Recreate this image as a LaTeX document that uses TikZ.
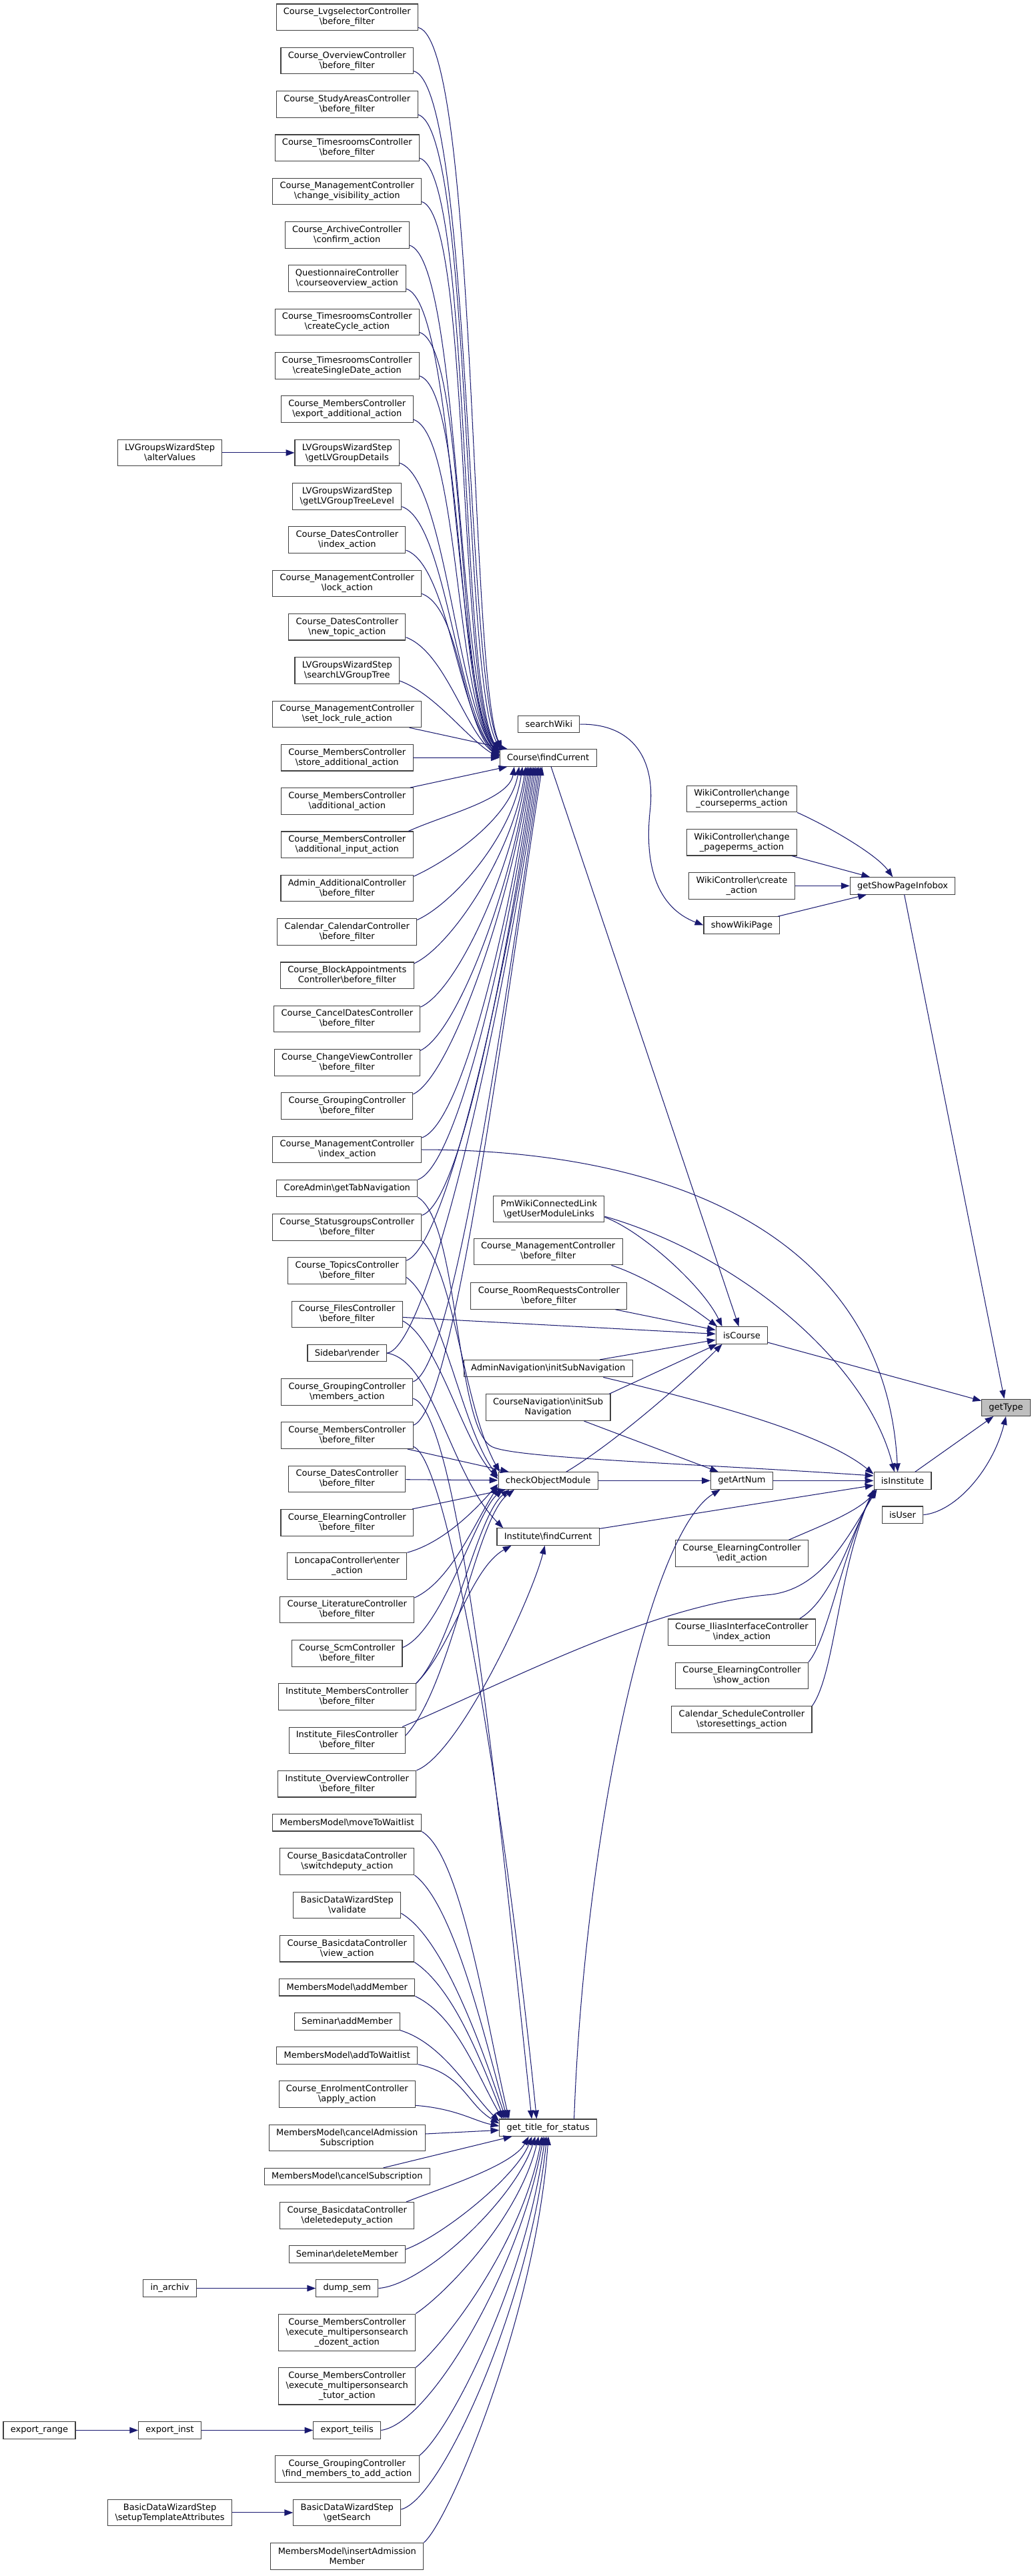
\documentclass[tikz,border=0pt]{standalone}
\usepackage{fontspec}
\setmainfont{DejaVu Sans}
\usetikzlibrary{arrows.meta,calc}
\definecolor{edgecol}{HTML}{191970}
\definecolor{nodeborder}{HTML}{404040}
\definecolor{hlfill}{HTML}{BFBFBF}
\def\dxf{\fontsize{5.28}{6.1}\selectfont}
\def\dxb{\textbackslash}
\tikzset{
  nb/.style={draw=nodeborder, fill=white, line width=0.45pt, align=center, font=\dxf,
             inner xsep=4.4pt, inner ysep=0pt, minimum height=10.3pt},
  nb2/.style={nb, minimum height=16.1pt},
  nb3/.style={nb, minimum height=22.4pt},
  e/.style={draw=edgecol, line width=0.42pt, -{Triangle[length=5.2pt,width=3.8pt]}},
}
\begin{document}
\begin{tikzpicture}[x=1pt,y=-1pt]
\useasboundingbox (0,0) rectangle (630.9,1570.3);
\fill[white] (0,0) rectangle (630.9,1570.3);

% ---------- left column (rank 4)
\node[nb2] (n1) at (211.5,10.5) {Course\_LvgselectorController\\\dxb before\_filter};
\node[nb2] (n2) at (211.5,37.05) {Course\_OverviewController\\\dxb before\_filter};
\node[nb2] (n3) at (211.5,63.6) {Course\_StudyAreasController\\\dxb before\_filter};
\node[nb2] (n4) at (211.5,90.15) {Course\_TimesroomsController\\\dxb before\_filter};
\node[nb2] (n5) at (211.5,116.7) {Course\_ManagementController\\\dxb change\_visibility\_action};
\node[nb2] (n6) at (211.5,143.25) {Course\_ArchiveController\\\dxb confirm\_action};
\node[nb2] (n7) at (211.5,169.8) {QuestionnaireController\\\dxb courseoverview\_action};
\node[nb2] (n8) at (211.5,196.35) {Course\_TimesroomsController\\\dxb createCycle\_action};
\node[nb2] (n9) at (211.5,222.9) {Course\_TimesroomsController\\\dxb createSingleDate\_action};
\node[nb2] (n10) at (211.5,249.45) {Course\_MembersController\\\dxb export\_additional\_action};
\node[nb2] (n11) at (211.5,276.0) {LVGroupsWizardStep\\\dxb getLVGroupDetails};
\node[nb2] (n12) at (211.5,302.55) {LVGroupsWizardStep\\\dxb getLVGroupTreeLevel};
\node[nb2] (n13) at (211.5,329.1) {Course\_DatesController\\\dxb index\_action};
\node[nb2] (n14) at (211.5,355.65) {Course\_ManagementController\\\dxb lock\_action};
\node[nb2] (n15) at (211.5,382.2) {Course\_DatesController\\\dxb new\_topic\_action};
\node[nb2] (n16) at (211.5,408.75) {LVGroupsWizardStep\\\dxb searchLVGroupTree};
\node[nb2] (n17) at (211.5,435.3) {Course\_ManagementController\\\dxb set\_lock\_rule\_action};
\node[nb2] (n18) at (211.5,461.85) {Course\_MembersController\\\dxb store\_additional\_action};
\node[nb2] (n19) at (211.5,488.4) {Course\_MembersController\\\dxb additional\_action};
\node[nb2] (n20) at (211.5,514.95) {Course\_MembersController\\\dxb additional\_input\_action};
\node[nb2] (n21) at (211.5,541.5) {Admin\_AdditionalController\\\dxb before\_filter};
\node[nb2] (n22) at (211.5,568.05) {Calendar\_CalendarController\\\dxb before\_filter};
\node[nb2] (n23) at (211.5,594.6) {Course\_BlockAppointments\\Controller\dxb before\_filter};
\node[nb2] (n24) at (211.5,621.15) {Course\_CancelDatesController\\\dxb before\_filter};
\node[nb2] (n25) at (211.5,647.7) {Course\_ChangeViewController\\\dxb before\_filter};
\node[nb2] (n26) at (211.5,674.25) {Course\_GroupingController\\\dxb before\_filter};
\node[nb2] (n27) at (211.5,700.8) {Course\_ManagementController\\\dxb index\_action};
\node[nb]  (n28) at (211.5,724.45) {CoreAdmin\dxb getTabNavigation};
\node[nb2] (n29) at (211.5,748.1) {Course\_StatusgroupsController\\\dxb before\_filter};
\node[nb2] (n30) at (211.5,774.65) {Course\_TopicsController\\\dxb before\_filter};
\node[nb2] (n31) at (211.5,801.2) {Course\_FilesController\\\dxb before\_filter};
\node[nb]  (n32) at (211.5,824.85) {Sidebar\dxb render};
\node[nb2] (n33) at (211.5,848.5) {Course\_GroupingController\\\dxb members\_action};
\node[nb2] (n34) at (211.5,875.05) {Course\_MembersController\\\dxb before\_filter};
\node[nb2] (n35) at (211.5,901.6) {Course\_DatesController\\\dxb before\_filter};
\node[nb2] (n36) at (211.5,928.15) {Course\_ElearningController\\\dxb before\_filter};
\node[nb2] (n37) at (211.5,954.7) {LoncapaController\dxb enter\\\_action};
\node[nb2] (n38) at (211.5,981.25) {Course\_LiteratureController\\\dxb before\_filter};
\node[nb2] (n39) at (211.5,1007.8) {Course\_ScmController\\\dxb before\_filter};
\node[nb2] (n40) at (211.5,1034.35) {Institute\_MembersController\\\dxb before\_filter};
\node[nb2] (n41) at (211.5,1060.9) {Institute\_FilesController\\\dxb before\_filter};
\node[nb2] (n42) at (211.5,1087.45) {Institute\_OverviewController\\\dxb before\_filter};
\node[nb]  (n43) at (211.5,1111.1) {MembersModel\dxb moveToWaitlist};
\node[nb2] (n44) at (211.5,1134.75) {Course\_BasicdataController\\\dxb switchdeputy\_action};
\node[nb2] (n45) at (211.5,1161.3) {BasicDataWizardStep\\\dxb validate};
\node[nb2] (n46) at (211.5,1187.85) {Course\_BasicdataController\\\dxb view\_action};
\node[nb]  (n47) at (211.5,1211.5) {MembersModel\dxb addMember};
\node[nb]  (n48) at (211.5,1232.25) {Seminar\dxb addMember};
\node[nb]  (n49) at (211.5,1253.0) {MembersModel\dxb addToWaitlist};
\node[nb2] (n50) at (211.5,1276.65) {Course\_EnrolmentController\\\dxb apply\_action};
\node[nb2] (n51) at (211.5,1303.2) {MembersModel\dxb cancelAdmission\\Subscription};
\node[nb]  (n52) at (211.5,1326.85) {MembersModel\dxb cancelSubscription};
\node[nb2] (n53) at (211.5,1350.5) {Course\_BasicdataController\\\dxb deletedeputy\_action};
\node[nb]  (n54) at (211.5,1374.15) {Seminar\dxb deleteMember};
\node[nb]  (n55) at (211.5,1394.9) {dump\_sem};
\node[nb3] (n56) at (211.5,1421.75) {Course\_MembersController\\\dxb execute\_multipersonsearch\\\_dozent\_action};
\node[nb3] (n57) at (211.5,1454.6) {Course\_MembersController\\\dxb execute\_multipersonsearch\\\_tutor\_action};
\node[nb]  (n58) at (211.5,1481.45) {export\_teilis};
\node[nb2] (n59) at (211.5,1505.1) {Course\_GroupingController\\\dxb find\_members\_to\_add\_action};
\node[nb2] (n60) at (211.5,1531.65) {BasicDataWizardStep\\\dxb getSearch};
\node[nb2] (n61) at (211.5,1558.2) {MembersModel\dxb insertAdmission\\Member};

% ---------- far left
\node[nb2] (alt) at (103.5,276.0) {LVGroupsWizardStep\\\dxb alterValues};
\node[nb]  (arch) at (103.5,1394.9) {in\_archiv};
\node[nb]  (exr) at (24,1481.45) {export\_range};
\node[nb]  (exi) at (103.5,1481.45) {export\_inst};
\node[nb2] (sta) at (103.5,1531.65) {BasicDataWizardStep\\\dxb setupTemplateAttributes};

% ---------- rank 3
\node[nb]  (sw) at (334.5,441.5) {searchWiki};
\node[nb]  (cfc) at (334,462) {Course\dxb findCurrent};
\node[nb2] (pm) at (334.5,737) {PmWikiConnectedLink\\\dxb getUserModuleLinks};
\node[nb2] (mb) at (334,763) {Course\_ManagementController\\\dxb before\_filter};
\node[nb2] (rr) at (334.5,790) {Course\_RoomRequestsController\\\dxb before\_filter};
\node[nb]  (an) at (334,834.2) {AdminNavigation\dxb initSubNavigation};
\node[nb2] (cn) at (334,858) {CourseNavigation\dxb initSub\\Navigation};
\node[nb]  (com) at (334,902.6) {checkObjectModule};
\node[nb]  (ifc) at (334,936.8) {Institute\dxb findCurrent};
\node[nb]  (gtfs) at (334,1297) {get\_title\_for\_status};

% ---------- rank 2
\node[nb2] (wc) at (452,487) {WikiController\dxb change\\\_courseperms\_action};
\node[nb2] (wp) at (452,513.5) {WikiController\dxb change\\\_pageperms\_action};
\node[nb2] (wcr) at (452,540) {WikiController\dxb create\\\_action};
\node[nb]  (swp) at (452,564) {showWikiPage};
\node[nb]  (ic) at (452,814) {isCourse};
\node[nb]  (gan) at (452,902.6) {getArtNum};
\node[nb2] (ee) at (452,947) {Course\_ElearningController\\\dxb edit\_action};
\node[nb2] (il) at (452,995) {Course\_IliasInterfaceController\\\dxb index\_action};
\node[nb2] (es) at (452,1021.55) {Course\_ElearningController\\\dxb show\_action};
\node[nb2] (cs) at (452,1048.1) {Calendar\_ScheduleController\\\dxb storesettings\_action};

% ---------- rank 1 / 0
\node[nb]  (gspi) at (550,540) {getShowPageInfobox};
\node[nb]  (ii) at (550,902.6) {isInstitute};
\node[nb]  (iu) at (550,923.4) {isUser};
\node[nb, fill=hlfill] (gt) at (613,858) {getType};

% ================= edges
% far left
\draw[e] (alt) -- (n11);
\draw[e] (arch) -- (n55);
\draw[e] (exr) -- (exi);
\draw[e] (exi) -- (n58);
\draw[e] (sta) -- (n60);

% fan into Course\findCurrent from above
\draw[e] ($(n1.south east)+(0,-2)$) .. controls +(36,9) and +(-20,-45) .. ($(cfc.north west)+(1.5,0)$);
\draw[e] ($(n2.south east)+(0,-2)$) .. controls +(35,9) and +(-22,-44) .. ($(cfc.north west)+(1.5,0)$);
\draw[e] ($(n3.south east)+(0,-2)$) .. controls +(33,9) and +(-23,-43) .. ($(cfc.north west)+(0.5,0)$);
\draw[e] ($(n4.south east)+(0,-2)$) .. controls +(32,9) and +(-25,-42) .. ($(cfc.west)+(0,-3.5)$);
\draw[e] ($(n5.south east)+(0,-2)$) .. controls +(30,9) and +(-26,-40) .. ($(cfc.west)+(0,-3.5)$);
\draw[e] ($(n6.south east)+(0,-2)$) .. controls +(31,9) and +(-26,-38) .. ($(cfc.west)+(0,-3)$);
\draw[e] ($(n7.south east)+(0,-2)$) .. controls +(30,9) and +(-27,-36) .. ($(cfc.west)+(0,-3)$);
\draw[e] ($(n8.south east)+(0,-2)$) .. controls +(29,9) and +(-27,-34) .. ($(cfc.west)+(0,-2)$);
\draw[e] ($(n9.south east)+(0,-2)$) .. controls +(28,9) and +(-27,-33) .. ($(cfc.west)+(0,-2)$);
\draw[e] ($(n10.south east)+(0,-2)$) .. controls +(28,9) and +(-27,-32) .. ($(cfc.west)+(0,-1.5)$);
\draw[e] ($(n11.south east)+(0,-2)$) .. controls +(28,9) and +(-26,-30) .. ($(cfc.west)+(0,-1.5)$);
\draw[e] ($(n12.south east)+(0,-2)$) .. controls +(27,9) and +(-26,-27) .. ($(cfc.west)+(0,-1)$);
\draw[e] ($(n13.south east)+(0,-2)$) .. controls +(26,9) and +(-25,-24) .. ($(cfc.west)+(0,-1)$);
\draw[e] ($(n14.south east)+(0,-2)$) .. controls +(24,9) and +(-23,-20) .. ($(cfc.west)+(0,-0.5)$);
\draw[e] ($(n15.south east)+(0,-2)$) .. controls +(24,9) and +(-21,-16) .. ($(cfc.west)+(0,-0.5)$);
\draw[e] ($(n16.south east)+(0,-2)$) .. controls +(22,8) and +(-20,-12) .. (cfc.west);
\draw[e] (n17) -- (cfc);
\draw[e] (n18) -- (cfc);
\draw[e] (n19) -- (cfc);
% fan into Course\findCurrent from below
\draw[e] ($(n20.north east)+(-3,0)$) .. controls +(22,-10) and +(-3,20) .. ($(cfc.south west)+(9,0)$);
\draw[e] ($(n21.north east)+(0,1)$) .. controls +(22,-10) and +(-5,31) .. ($(cfc.south west)+(12,0)$);
\draw[e] ($(n22.north east)+(0,1)$) .. controls +(22,-10) and +(-6,42) .. ($(cfc.south west)+(14,0)$);
\draw[e] ($(n23.north east)+(0,1)$) .. controls +(22,-10) and +(-8,54) .. ($(cfc.south west)+(16,0)$);
\draw[e] ($(n24.north east)+(0,1)$) .. controls +(22,-10) and +(-10,65) .. ($(cfc.south west)+(17,0)$);
\draw[e] ($(n25.north east)+(0,1)$) .. controls +(22,-10) and +(-11,76) .. ($(cfc.south west)+(18,0)$);
\draw[e] ($(n26.north east)+(0,1)$) .. controls +(22,-10) and +(-13,87) .. ($(cfc.south west)+(19,0)$);
\draw[e] ($(n27.north east)+(0,1)$) .. controls +(24,-8) and +(-15,98) .. ($(cfc.south west)+(20,0)$);
\draw[e] (n28.north east) .. controls +(24,-8) and +(-16,108) .. ($(cfc.south west)+(21,0)$);
\draw[e] ($(n29.north east)+(0,1)$) .. controls +(24,-8) and +(-18,118) .. ($(cfc.south west)+(22,0)$);
\draw[e] ($(n30.north east)+(0,2)$) .. controls +(24,-8) and +(-19,129) .. ($(cfc.south west)+(23,0)$);
\draw[e] (n32.east) .. controls +(26,-4) and +(-22,150) .. ($(cfc.south west)+(24,0)$);
\draw[e] ($(n33.north east)+(0,2)$) .. controls +(24,-8) and +(-24,160) .. ($(cfc.south west)+(25,0)$);
\draw[e] ($(n34.north east)+(0,2)$) .. controls +(24,-8) and +(-26,171) .. ($(cfc.south west)+(26,0)$);

% other edges of the middle left block
\draw[e] (n27.east) .. controls (420,701) and (540,760) .. ($(ii.north)+(-3,0)$);
\draw[e] (n28.south east) .. controls (280,745) and (277.5,871.5) .. (300,882)
         .. controls (315,889) and (420,892) .. ($(ii.west)+(0,-3)$);
\draw[e] (n29.south east) .. controls +(20,20) and +(-22,-40) .. ($(com.north west)+(1,0)$);
\draw[e] ($(n30.east)+(0,4)$) .. controls +(22,16) and +(-22,-30) .. ($(com.west)+(0,-2.5)$);
\draw[e] ($(n31.east)+(0,4)$) .. controls +(22,12) and +(-22,-24) .. ($(com.west)+(0,-1)$);
\draw[e] (n31) -- (ic);
\draw[e] (n32.east) .. controls +(28,4) and +(-32,-32) .. ($(ifc.north west)+(4,0)$);
\draw[e] ($(n33.east)+(0,4)$) .. controls +(28,8) and +(-20,-190) .. ($(gtfs.north)+(-10,0)$);
\draw[e] (n34) -- (com);
\draw[e] ($(n34.south east)+(0,-1.5)$) .. controls +(22,8) and +(-18,-180) .. ($(gtfs.north)+(-7,0)$);
\draw[e] (n35) -- (com);
\draw[e] (n36) -- (com);
\draw[e] (n37.north east) .. controls +(22,-6) and +(-14,16) .. ($(com.west)+(0,2)$);
\draw[e] ($(n38.north east)+(0,1)$) .. controls +(22,-10) and +(-14,22) .. ($(com.west)+(0,3.5)$);
\draw[e] ($(n39.east)+(0,-3.5)$) .. controls +(24,-10) and +(-16,14) .. ($(com.south west)+(3,0)$);
\draw[e] (n40.north east) .. controls +(22,-22) and +(-20,16) .. ($(com.south west)+(7,0)$);
\draw[e] (n40.north east) .. controls +(22,-22) and +(-25,14) .. ($(ifc.south west)+(9,0)$);
\draw[e] ($(n41.east)+(0,-3)$) .. controls +(28,-30) and +(-24,18) .. ($(com.south west)+(10,0)$);
\draw[e] ($(n41.north east)+(-2,0)$) .. controls (320,1020) and (400,978) .. (470,972)
         .. controls (500,968) and (515,940) .. ($(ii.south west)+(2,0)$);
\draw[e] (n42.north east) .. controls +(26,-10) and +(-8,32) .. ($(ifc.south)+(-2,0)$);

% fan into get_title_for_status
\draw[e] (n43.south east) .. controls +(24,14) and +(-14,-60) .. ($(gtfs.north west)+(6,0)$);
\draw[e] (n44.south east) .. controls +(24,18) and +(-14,-50) .. ($(gtfs.north west)+(5,0)$);
\draw[e] ($(n45.east)+(0,5)$) .. controls +(26,15) and +(-14,-42) .. ($(gtfs.north west)+(4,0)$);
\draw[e] (n46.south east) .. controls +(24,16) and +(-14,-35) .. ($(gtfs.north west)+(3,0)$);
\draw[e] (n47.south east) .. controls +(25,12) and +(-16,-28) .. ($(gtfs.north west)+(2,0)$);
\draw[e] (n48.south east) .. controls +(26,8) and +(-18,-18) .. ($(gtfs.north west)+(0,1.5)$);
\draw[e] (n49.south east) .. controls +(28,6) and +(-20,-12) .. ($(gtfs.west)+(0,-2.5)$);
\draw[e] ($(n50.south east)+(0,-1.5)$) .. controls +(25,2) and +(-15,-3) .. ($(gtfs.west)+(0,-1)$);
\draw[e] (n51) -- (gtfs);
\draw[e] (n52) -- (gtfs);
\draw[e] ($(n53.north east)+(-5,0)$) .. controls +(20,-8) and +(-10,18) .. ($(gtfs.south west)+(18,0)$);
\draw[e] ($(n54.east)+(0,-3)$) .. controls +(22,-8) and +(-10,25) .. ($(gtfs.south west)+(20,0)$);
\draw[e] (n55.east) .. controls +(28,-2) and +(-12,38) .. ($(gtfs.south west)+(22,0)$);
\draw[e] (n56.north east) .. controls +(18,-12) and +(-12,50) .. ($(gtfs.south west)+(24,0)$);
\draw[e] (n57.north east) .. controls +(18,-15) and +(-12,65) .. ($(gtfs.south west)+(26,0)$);
\draw[e] (n58.east) .. controls +(30,-4) and +(-14,80) .. ($(gtfs.south west)+(27,0)$);
\draw[e] (n59.north east) .. controls +(18,-14) and +(-12,90) .. ($(gtfs.south west)+(28,0)$);
\draw[e] ($(n60.east)+(0,-2)$) .. controls +(25,-6) and +(-10,100) .. ($(gtfs.south west)+(29,0)$);
\draw[e] (n61.north east) .. controls +(15,-12) and +(-8,110) .. ($(gtfs.south west)+(30,0)$);

% wiki part
\draw[e] (sw.east) .. controls (385,441) and (400,462) .. (396,495)
         .. controls (392,535) and (405,555) .. (swp.west);
\draw[e] (wc.south east) .. controls +(18,8) and +(-10,-14) .. ($(gspi.north)+(-6,0)$);
\draw[e] (wp) -- (gspi);
\draw[e] (wcr) -- (gspi);
\draw[e] (swp) -- (gspi);
\draw[e] (gspi) -- (gt);

% isCourse
\draw[e] (cfc) -- (ic);
\draw[e] ($(pm.east)+(0,5)$) .. controls +(22,8) and +(-12,-25) .. ($(ic.north west)+(4,0)$);
\draw[e] ($(mb.south east)+(-7,0)$) .. controls +(24,8) and +(-16,-12) .. ($(ic.north west)+(1,0)$);
\draw[e] (rr) -- (ic);
\draw[e] (an) -- (ic);
\draw[e] ($(cn.north east)+(-1,0)$) -- ($(ic.south west)+(1,0)$);
\draw[e] ($(com.north)+(11,0)$) .. controls +(30,-18) and +(-22,22) .. ($(ic.south west)+(4,0)$);
\draw[e] (ic) -- (gt);

% getArtNum
\draw[e] (cn) -- (gan);
\draw[e] (com) -- (gan);
\draw[e] ($(gtfs.north east)+(-14,0)$) .. controls (356,1120) and (395,935) .. ($(gan.south west)+(6,0)$);

% isInstitute
\draw[e] (gan) -- (ii);
\draw[e] (ifc) -- (ii);
\draw[e] ($(pm.east)+(0,4.5)$) .. controls (450,765) and (528,830) .. ($(ii.north)+(-5,0)$);
\draw[e] ($(an.south east)+(-18,0)$) .. controls (420,852) and (500,872) .. ($(ii.west)+(0,-4)$);
\draw[e] ($(ee.north east)+(-12,0)$) .. controls +(18,-8) and +(-12,14) .. ($(ii.south west)+(2,0)$);
\draw[e] ($(il.north east)+(-10,0)$) .. controls +(20,-12) and +(-16,30) .. ($(ii.south west)+(1,0)$);
\draw[e] (es.north east) .. controls +(12,-14) and +(-20,40) .. ($(ii.south west)+(0.5,0)$);
\draw[e] (cs.north east) .. controls +(14,-20) and +(-22,50) .. (ii.south west);
\draw[e] (ii) -- (gt);
\draw[e] (iu.east) .. controls +(20,-2) and +(-8,32) .. (gt.south);
\end{tikzpicture}
\end{document}
